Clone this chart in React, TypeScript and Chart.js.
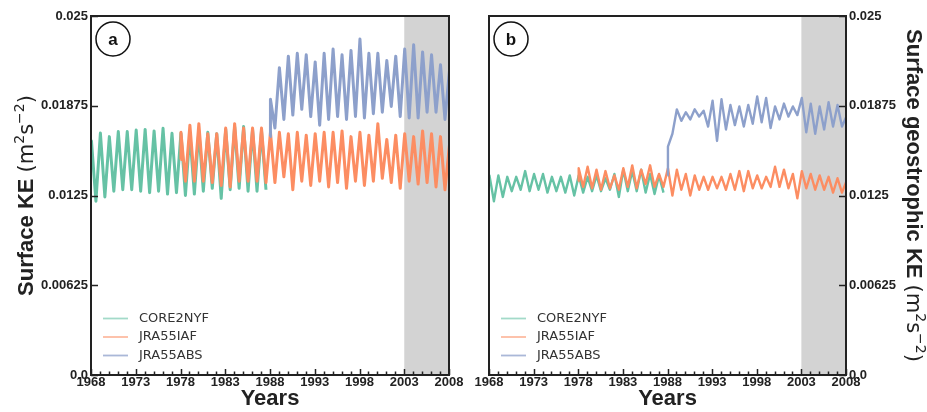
import React, { useEffect, useRef } from "react";
import { Chart, registerables } from "chart.js";
Chart.register(...registerables);

// ---------- labels / ticks ----------
const seriesNames = ["CORE2NYF", "JRA55IAF", "JRA55ABS"];
const seriesColors = ["#66c2a5", "#fc8d62", "#8da0cb"];
const legendColors = ["rgba(102,194,165,0.6)", "rgba(252,141,98,0.6)", "rgba(141,160,203,0.75)"];
const xTickValues = [1968, 1973, 1978, 1983, 1988, 1993, 1998, 2003, 2008];
const xTickLabels = ["1968", "1973", "1978", "1983", "1988", "1993", "1998", "2003", "2008"];
const yTickValues = [0, 0.00625, 0.0125, 0.01875, 0.025];
const yTickLabels = ["0.0", "0.00625", "0.0125", "0.01875", "0.025"];
const shadeYears = [2003, 2008];
const panelLetters = ["a", "b"];

// ---------- panel a: Surface KE ----------
const coreA_start = 1968;
const coreA_first = 0.0158;
const coreA_peaks = [0.0163, 0.01685, 0.0166, 0.01695, 0.01695, 0.01706, 0.0171, 0.017, 0.01718, 0.01683, 0.01683, 0.0168, 0.017, 0.0169, 0.0168, 0.0171, 0.0173, 0.0173, 0.0171, 0.017];
const coreA_troughs = [0.0121, 0.0124, 0.0128, 0.0129, 0.0129, 0.0128, 0.0127, 0.0128, 0.0126, 0.0127, 0.0125, 0.0126, 0.0128, 0.013, 0.0123, 0.0129, 0.013, 0.0128, 0.0128, 0.0129];

const jraA_start = 1978;
const jraA_first = 0.015;
const jraA_peaks = [0.0169, 0.0174, 0.0175, 0.0168, 0.0168, 0.0172, 0.0175, 0.0172, 0.0172, 0.0172, 0.0169, 0.0169, 0.0168, 0.0169, 0.0167, 0.0168, 0.0169, 0.0169, 0.017, 0.0166, 0.0169, 0.0167, 0.0175, 0.0164, 0.0167, 0.0168, 0.0166, 0.017, 0.0168, 0.0166, 0.016];
const jraA_troughs = [0.0135, 0.0135, 0.0135, 0.0134, 0.0132, 0.0131, 0.0135, 0.0135, 0.0135, 0.0134, 0.0134, 0.0138, 0.0129, 0.0135, 0.0132, 0.0135, 0.0131, 0.0134, 0.013, 0.0135, 0.0132, 0.0135, 0.0137, 0.0134, 0.013, 0.0135, 0.0133, 0.0134, 0.0131, 0.0129];

const absA_start = 1988;
const absA_first = 0.0166;
const absA_peaks = [0.0192, 0.0214, 0.0222, 0.0224, 0.0223, 0.0218, 0.0224, 0.0227, 0.0223, 0.0226, 0.0234, 0.0224, 0.0224, 0.0219, 0.0222, 0.0227, 0.023, 0.0225, 0.0223, 0.0216, 0.0212];
const absA_troughs = [0.0172, 0.0178, 0.0181, 0.0185, 0.018, 0.0174, 0.0178, 0.018, 0.0178, 0.018, 0.0179, 0.0182, 0.0183, 0.0187, 0.018, 0.0179, 0.0179, 0.0183, 0.0183, 0.0178];

// ---------- panel b: Surface geostrophic KE ----------
const coreB_start = 1968;
const coreB_first = 0.0136;
const coreB_peaks = [0.0139, 0.0139, 0.0138, 0.0138, 0.0142, 0.014, 0.014, 0.0138, 0.0138, 0.0139, 0.0139, 0.0138, 0.0139, 0.0137, 0.014, 0.0143, 0.0142, 0.0143, 0.014, 0.0139];
const coreB_troughs = [0.0121, 0.0124, 0.0128, 0.0129, 0.0128, 0.0129, 0.0127, 0.0128, 0.0127, 0.0125, 0.0127, 0.0128, 0.0128, 0.0129, 0.0124, 0.0128, 0.0128, 0.0127, 0.0126, 0.0127];

const jraB_start = 1978;
const jraB_first = 0.0135;
const jraB_peaks = [0.0144, 0.0145, 0.0143, 0.0142, 0.0139, 0.0144, 0.0146, 0.0143, 0.0146, 0.014, 0.0144, 0.0143, 0.014, 0.0139, 0.0138, 0.0138, 0.0138, 0.014, 0.0142, 0.0142, 0.0139, 0.0138, 0.0145, 0.0143, 0.014, 0.0142, 0.014, 0.0139, 0.0138, 0.0137, 0.0135];
const jraB_troughs = [0.0131, 0.013, 0.0129, 0.013, 0.0129, 0.0131, 0.013, 0.0133, 0.0131, 0.0131, 0.0125, 0.0129, 0.0125, 0.0129, 0.0129, 0.013, 0.0129, 0.0129, 0.0128, 0.013, 0.013, 0.0131, 0.0131, 0.013, 0.0123, 0.013, 0.0129, 0.0129, 0.0127, 0.0127];

const absB_start = 1988;
const absB_first = 0.0139;
const absB_peaks = [0.0159, 0.0185, 0.0183, 0.0185, 0.0184, 0.0191, 0.0192, 0.0188, 0.0187, 0.0188, 0.0194, 0.0193, 0.0187, 0.0189, 0.0187, 0.0193, 0.0189, 0.0187, 0.019, 0.0188, 0.018];
const absB_troughs = [0.0168, 0.0177, 0.0178, 0.018, 0.0173, 0.0163, 0.0171, 0.0174, 0.0173, 0.0175, 0.0176, 0.0172, 0.0178, 0.018, 0.0181, 0.0169, 0.0168, 0.0171, 0.0173, 0.0173];

function buildSeries(start: number, first: number, peaks: number[], troughs: number[]) {
  const pts: { x: number; y: number }[] = [{ x: start, y: first }];
  for (let i = 0; i < peaks.length; i++) {
    pts.push({ x: start + i + 0.05, y: peaks[i] });
    if (i < troughs.length) pts.push({ x: start + i + 0.55, y: troughs[i] });
  }
  return pts;
}

type Run = { text: string; font: string; dy: number };
function titleRuns(main: string): Run[] {
  const big = '21px "DejaVu Sans"';
  const sup = '14px "DejaVu Sans"';
  return [
    { text: main + " ", font: 'bold 22px "Liberation Sans"', dy: 0 },
    { text: "(m", font: big, dy: 0 },
    { text: "2", font: sup, dy: -9 },
    { text: "s", font: big, dy: 0 },
    { text: "\u22122", font: sup, dy: -9 },
    { text: ")", font: big, dy: 0 },
  ];
}

function drawRich(ctx: CanvasRenderingContext2D, runs: Run[], x: number, y: number, rot: number) {
  ctx.save();
  ctx.translate(x, y);
  ctx.rotate(rot);
  ctx.textBaseline = "alphabetic";
  ctx.textAlign = "left";
  ctx.fillStyle = "#222";
  let total = 0;
  for (const r of runs) {
    ctx.font = r.font;
    total += ctx.measureText(r.text).width;
  }
  let cx = -total / 2;
  for (const r of runs) {
    ctx.font = r.font;
    ctx.fillText(r.text, cx, r.dy);
    cx += ctx.measureText(r.text).width;
  }
  ctx.restore();
}

function makeDecor(panel: number) {
  const isA = panel === 0;
  return {
    id: "decor" + panel,
    beforeDatasetsDraw(chart: any) {
      const { ctx, chartArea: ca, scales } = chart;
      const x0 = scales.x.getPixelForValue(shadeYears[0]);
      const x1 = scales.x.getPixelForValue(shadeYears[1]);
      ctx.save();
      ctx.fillStyle = "#d3d3d3";
      ctx.fillRect(x0, ca.top, x1 - x0, ca.bottom - ca.top);
      ctx.restore();
    },
    afterDatasetsDraw(chart: any) {
      const { ctx, chartArea: ca, scales } = chart;
      ctx.save();
      ctx.strokeStyle = "#222";
      ctx.lineWidth = 2;
      ctx.strokeRect(ca.left, ca.top, ca.right - ca.left, ca.bottom - ca.top);
      ctx.lineWidth = 1.5;
      ctx.beginPath();
      for (let yr = 1968; yr <= 2008; yr++) {
        const px = Math.round(scales.x.getPixelForValue(yr)) + 0.5;
        const len = (yr - 1968) % 5 === 0 ? 6 : 3.5;
        ctx.moveTo(px, ca.bottom);
        ctx.lineTo(px, ca.bottom - len);
      }
      for (const v of yTickValues) {
        const py = Math.round(scales.y.getPixelForValue(v)) + 0.5;
        if (isA) {
          ctx.moveTo(ca.left, py);
          ctx.lineTo(ca.left + 7, py);
        } else {
          ctx.moveTo(ca.right, py);
          ctx.lineTo(ca.right - 7, py);
        }
      }
      ctx.stroke();
      ctx.restore();
    },
    afterDraw(chart: any) {
      const { ctx, chartArea: ca } = chart;
      ctx.save();
      const cx = ca.left + 22;
      const cy = 39;
      ctx.beginPath();
      ctx.arc(cx, cy, 17, 0, Math.PI * 2);
      ctx.fillStyle = "#fff";
      ctx.fill();
      ctx.lineWidth = 1.5;
      ctx.strokeStyle = "#111";
      ctx.stroke();
      ctx.fillStyle = "#111";
      ctx.font = 'bold 17px "Liberation Sans"';
      ctx.textAlign = "center";
      ctx.textBaseline = "middle";
      ctx.fillText(panelLetters[panel], cx, cy + 1);
      const rows = [318.5, 337, 355.5];
      ctx.font = '13px "DejaVu Sans"';
      ctx.textAlign = "left";
      for (let i = 0; i < 3; i++) {
        ctx.strokeStyle = legendColors[i];
        ctx.lineWidth = 1.8;
        ctx.beginPath();
        ctx.moveTo(ca.left + 12, rows[i]);
        ctx.lineTo(ca.left + 37, rows[i]);
        ctx.stroke();
        ctx.fillStyle = "#333";
        ctx.fillText(seriesNames[i], ca.left + 48, rows[i]);
      }
      ctx.restore();
      const midY = (ca.top + ca.bottom) / 2;
      if (isA) {
        drawRich(ctx, titleRuns("Surface KE"), 33, midY, -Math.PI / 2);
      } else {
        drawRich(ctx, titleRuns("Surface geostrophic KE"), ca.right + 61, midY, Math.PI / 2);
      }
    },
  };
}

function buildConfig(panel: number): any {
  const isA = panel === 0;
  const raw = isA
    ? [
        buildSeries(coreA_start, coreA_first, coreA_peaks, coreA_troughs),
        buildSeries(jraA_start, jraA_first, jraA_peaks, jraA_troughs),
        buildSeries(absA_start, absA_first, absA_peaks, absA_troughs),
      ]
    : [
        buildSeries(coreB_start, coreB_first, coreB_peaks, coreB_troughs),
        buildSeries(jraB_start, jraB_first, jraB_peaks, jraB_troughs),
        buildSeries(absB_start, absB_first, absB_peaks, absB_troughs),
      ];
  const datasets = raw.map((d, i) => ({
    label: seriesNames[i],
    data: d,
    borderColor: seriesColors[i],
    backgroundColor: seriesColors[i],
    borderWidth: isA ? 3 : 2.4,
    pointRadius: 0,
    tension: 0,
    fill: false,
    borderJoinStyle: "round",
    order: 3 - i,
  }));
  const tickFont = { family: "Liberation Sans", size: 13, weight: "bold" };
  return {
    type: "line",
    data: { datasets },
    options: {
      responsive: false,
      animation: false,
      devicePixelRatio: 1,
      events: [],
      layout: {
        padding: isA ? { left: 0, right: 26, top: 16, bottom: 0 } : { left: 19, right: 0, top: 16, bottom: 0 },
      },
      plugins: { legend: { display: false }, tooltip: { enabled: false } },
      scales: {
        x: {
          type: "linear",
          position: "bottom",
          min: 1968,
          max: 2008,
          afterBuildTicks: (s: any) => {
            s.ticks = xTickValues.map((v) => ({ value: v }));
          },
          afterFit: (s: any) => {
            s.height = 37;
          },
          ticks: {
            autoSkip: false,
            maxRotation: 0,
            padding: 0,
            color: "#222",
            font: tickFont,
            callback: (_v: any, i: number) => xTickLabels[i],
          },
          grid: { display: false, drawTicks: false },
          border: { display: false },
          title: {
            display: true,
            text: "Years",
            color: "#222",
            font: { family: "Liberation Sans", size: 22, weight: "bold" },
            padding: { top: 0, bottom: 0 },
          },
        },
        y: {
          type: "linear",
          position: isA ? "left" : "right",
          min: 0,
          max: 0.025,
          afterBuildTicks: (s: any) => {
            s.ticks = yTickValues.map((v) => ({ value: v }));
          },
          afterFit: (s: any) => {
            s.width = isA ? 91 : 81;
          },
          ticks: {
            padding: 3,
            color: "#222",
            font: tickFont,
            callback: (_v: any, i: number) => yTickLabels[i],
          },
          grid: { display: false, drawTicks: false },
          border: { display: false },
        },
      },
    },
    plugins: [makeDecor(panel)],
  };
}

function Panel({ panel, left, width }: { panel: number; left: number; width: number }) {
  const ref = useRef<HTMLCanvasElement | null>(null);
  useEffect(() => {
    if (!ref.current) return;
    const chart = new Chart(ref.current, buildConfig(panel));
    return () => chart.destroy();
  }, [panel]);
  return (
    <canvas
      ref={ref}
      width={width}
      height={412}
      style={{ position: "absolute", left, top: 0, width, height: 412 }}
    />
  );
}

export default function App() {
  return (
    <div style={{ position: "absolute", left: 0, top: 0, width: 927, height: 412, background: "#fff", overflow: "hidden" }}>
      <Panel panel={0} left={0} width={475} />
      <Panel panel={1} left={470} width={457} />
    </div>
  );
}
